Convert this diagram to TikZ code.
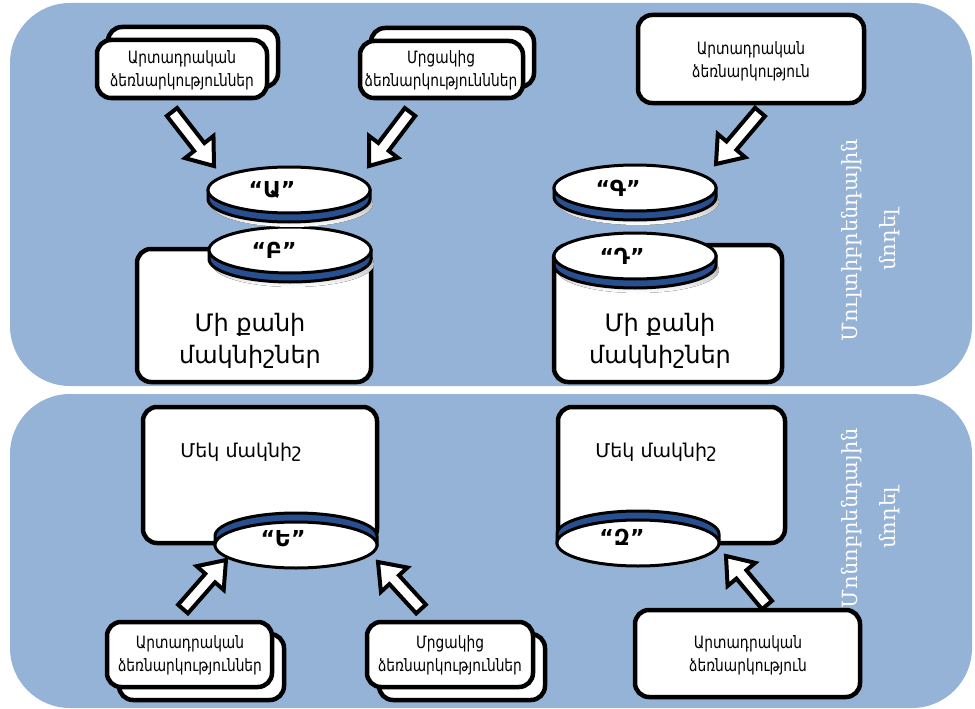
\documentclass[tikz,border=0pt]{standalone}
\usepackage{fontspec}
\setmainfont{DejaVu Sans}
\newfontfamily\armnarrow[FakeStretch=0.81]{DejaVu Sans}
\newfontfamily\armserif{DejaVu Serif}
\usetikzlibrary{calc}
\definecolor{panel}{RGB}{149,179,215}
\definecolor{band}{RGB}{40,80,145}
\definecolor{shade}{RGB}{150,150,158}
\tikzset{
 panelbox/.style={fill=panel, draw=none, rounded corners=60pt},
 wbox/.style={draw=black, fill=white, line width=4.5pt, rounded corners=14pt},
 boxtext/.style={align=center, font=\armnarrow\fontsize{17}{23}\selectfont},
 bigtext/.style={align=center, font=\fontsize{24}{32}\selectfont},
 onetext/.style={font=\fontsize{19}{22}\selectfont},
 disklabel/.style={font=\bfseries\fontsize{22}{26}\selectfont},
 diskline/.style={draw=black, line width=3pt},
 sidetext/.style={align=center, text=white, rotate=90, font=\armserif\fontsize{21}{38}\selectfont},
 blockarr/.style={draw=black, fill=white, line width=4pt, line join=miter},
}
\newcommand\barrow[2]{%
 \coordinate (nk) at ($(#2)!24pt!(#1)$);
 \path[blockarr] ($(#1)!6.5pt!90:(#2)$) -- ($(nk)!6.5pt!90:(#2)$) -- ($(nk)!18pt!90:(#2)$) -- (#2) -- ($(nk)!18pt!-90:(#2)$) -- ($(nk)!6.5pt!-90:(#2)$) -- ($(#1)!6.5pt!-90:(#2)$) -- cycle;
}
% disk with its edge below (top panel)
\newcommand\diskdown[5]{%
 \fill[shade] (#2+3,#3+14) ellipse (81 and 23);
 \path[diskline, fill=band] (#2-81,#3) -- (#2-81,#3+9) arc (180:0:81 and 23) -- (#2+81,#3) -- cycle;
 \path[diskline, fill=white] (#2,#3) ellipse (81 and 23);
 \node[disklabel] (#1) at (#2+#5,#3) {“#4”};
}
% disk with its edge above (bottom panel)
\newcommand\diskup[5]{%
 \path[diskline, fill=band] (#2-81,#3) -- (#2-81,#3-9) arc (180:360:81 and 23) -- (#2+81,#3) -- cycle;
 \path[diskline, fill=white] (#2,#3) ellipse (81 and 23);
 \node[disklabel] (#1) at (#2+#5,#3-6) {“#4”};
}
\begin{document}
\begin{tikzpicture}[x=1pt,y=-1pt]
\useasboundingbox (0,0) rectangle (975,709);
% panels
\fill[panelbox] (10,3) rectangle (972,386);
\fill[panelbox] (10,394) rectangle (972,708);

% ---------- top panel ----------
\draw[wbox] (108,27) rectangle (278,87);
\draw[wbox] (97,40) rectangle (267,98);
\node[boxtext] (pr1) at (182,70) {Արտադրական\\ձեռնարկություններ};
\draw[wbox] (371,28) rectangle (534,87);
\draw[wbox] (360,41) rectangle (523,98);
\node[boxtext] (cm1) at (441,70) {Մրցակից\\ձեռնարկությունններ};
\draw[wbox] (638,15) rectangle (864,103);
\node[boxtext] (pr2) at (751,61) {Արտադրական\\ձեռնարկություն};

% left group
\draw[wbox] (137,249) rectangle (371,382);
\node[bigtext] (mb1) at (250,341) {Մի քանի\\մակնիշներ};
\diskdown{dB}{290}{250}{Բ}{-16}
\diskdown{dA}{289}{190}{Ա}{-17}

% right group
\draw[wbox] (554,245) rectangle (782,382);
\node[bigtext] (mb2) at (660,341) {Մի քանի\\մակնիշներ};
\diskdown{dD}{635}{256}{Դ}{-13}
\diskdown{dG}{635}{188}{Գ}{-17}

% arrows
\coordinate (t1) at (172,112); \coordinate (h1) at (214,166);
\coordinate (t2) at (410,112); \coordinate (h2) at (369,166);
\coordinate (t3) at (760,112); \coordinate (h3) at (716,164);
\barrow{t1}{h1}
\barrow{t2}{h2}
\barrow{t3}{h3}

\node[sidetext] (multi) at (871,240) {Մուլտիբրենդային\\մոդել};

% ---------- bottom panel ----------
\draw[wbox] (143,407) rectangle (377,543);
\node[onetext] (one1) at (241,452) {Մեկ մակնիշ};
\diskup{dE}{296}{545}{Ե}{-13}

\draw[wbox] (558,407) rectangle (785,543);
\node[onetext] (one2) at (656,452) {Մեկ մակնիշ};
\diskup{dZ}{638}{543}{Զ}{-16}

\draw[wbox] (119,634) rectangle (284,700);
\draw[wbox] (107,622) rectangle (272,687);
\node[boxtext] (pr3) at (190,655) {Արտադրական\\ձեռնարկություններ};
\draw[wbox] (379,634) rectangle (545,700);
\draw[wbox] (367,622) rectangle (533,687);
\node[boxtext] (cm2) at (450,655) {Մրցակից\\ձեռնարկություններ};
\draw[wbox] (635,610) rectangle (860,697);
\node[boxtext] (pr4) at (748,655) {Արտադրական\\ձեռնարկություն};

\coordinate (t4) at (183,609); \coordinate (h4) at (226,560);
\coordinate (t5) at (421,609); \coordinate (h5) at (378,562);
\coordinate (t6) at (767,605); \coordinate (h6) at (726,556);
\barrow{t4}{h4}
\barrow{t5}{h5}
\barrow{t6}{h6}

\node[sidetext] (mono) at (871,518) {Մոնոբրենդային\\մոդել};
\end{tikzpicture}
\end{document}
